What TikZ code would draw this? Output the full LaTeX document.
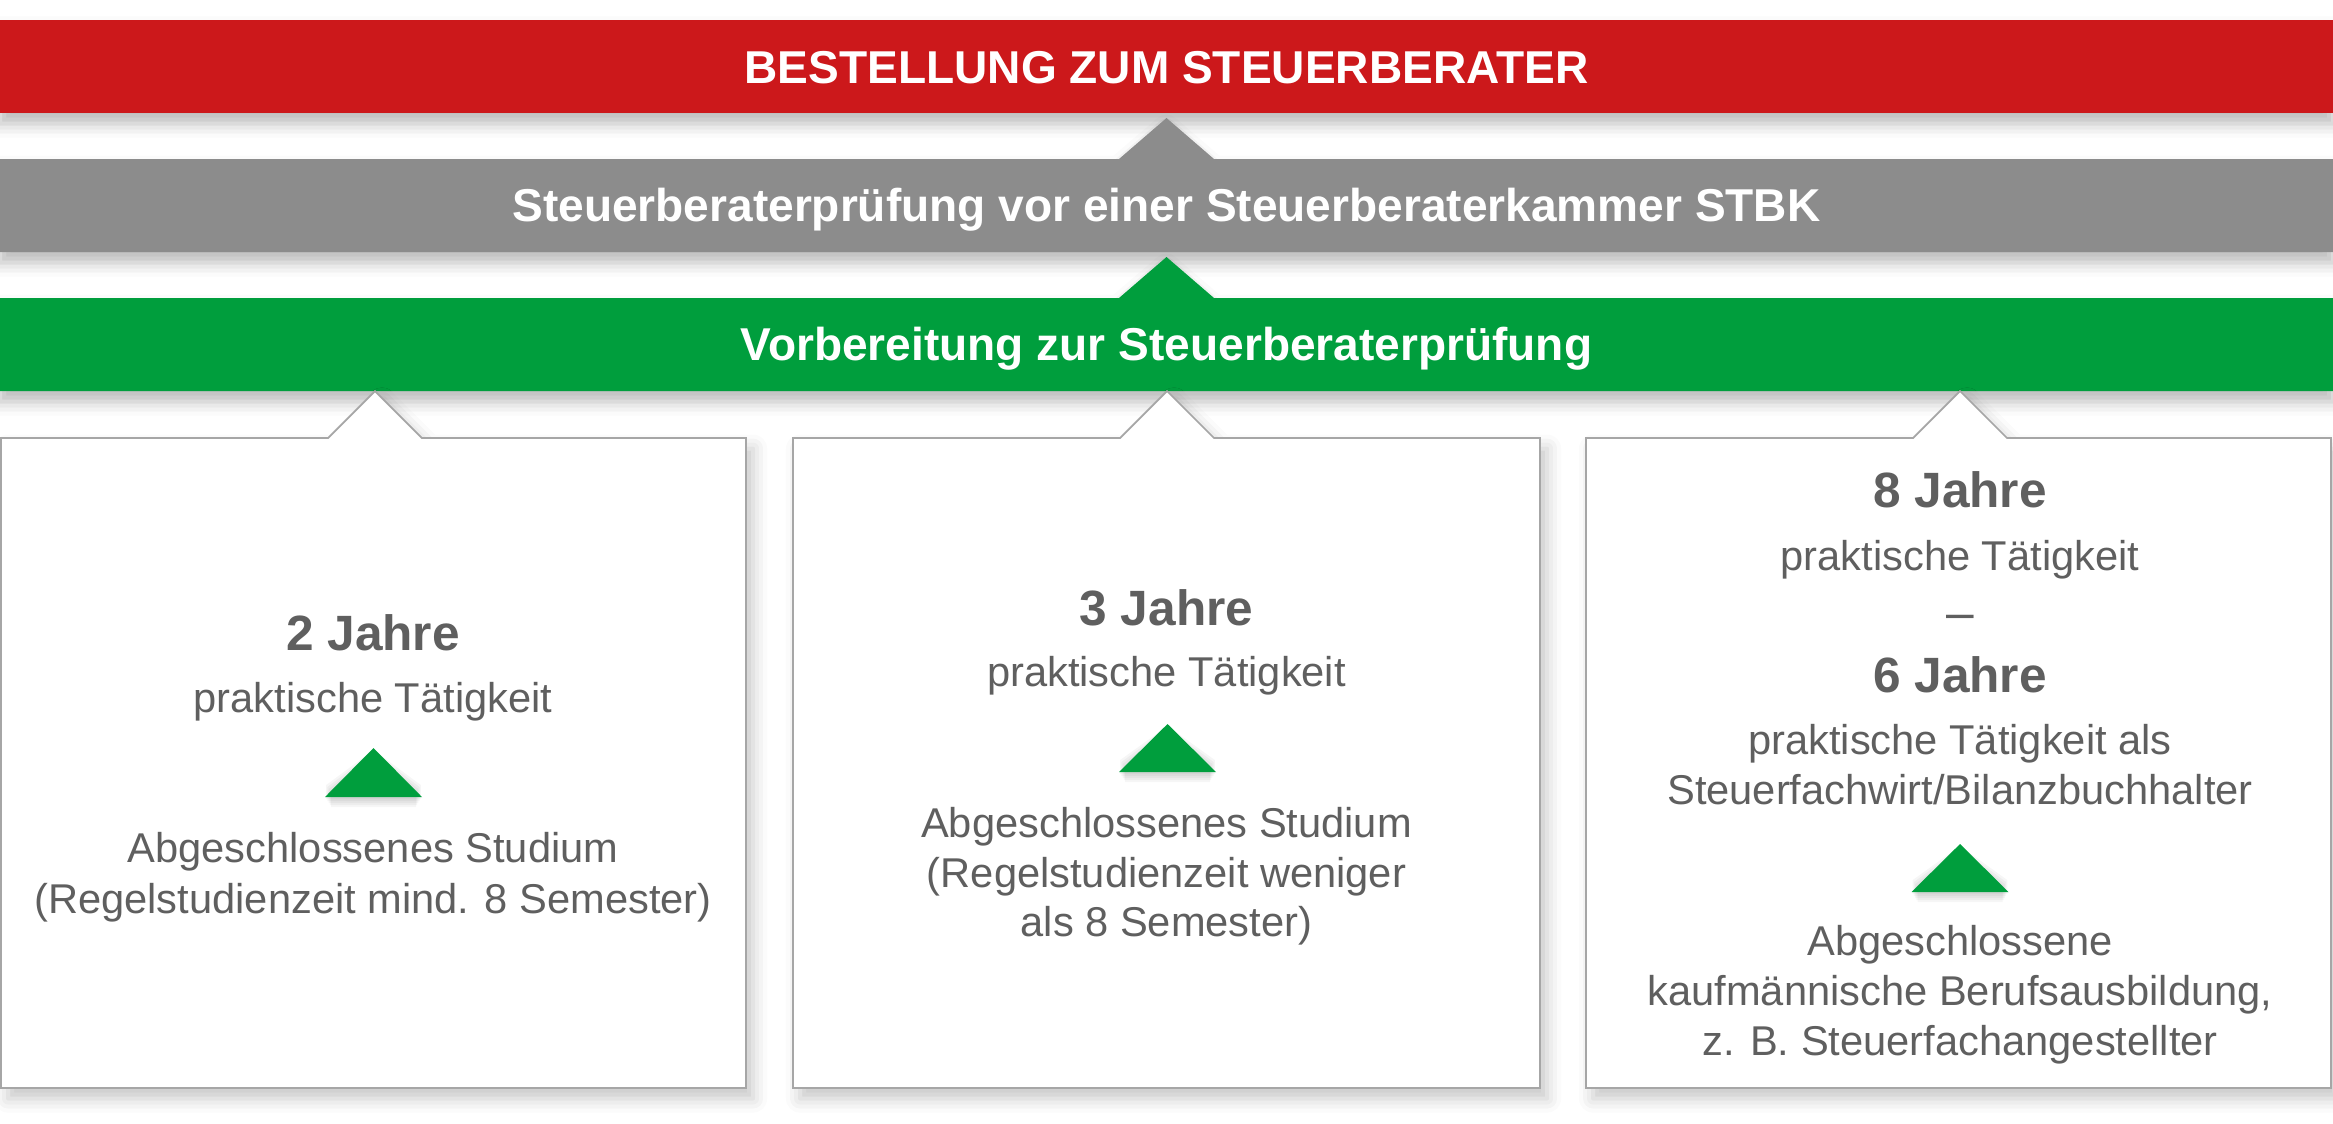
\documentclass[tikz,border=0pt]{standalone}
\usepackage{fontspec}
\setmainfont{Liberation Sans}
\usetikzlibrary{shadows.blur}
\definecolor{bandred}{HTML}{CC181B}
\definecolor{bandgray}{HTML}{8C8C8C}
\definecolor{bandgreen}{HTML}{009E3D}
\definecolor{txtgray}{HTML}{5F5F5F}
\definecolor{boxline}{HTML}{A6A6A6}
\tikzset{
  bandshadow/.style={blur shadow={shadow xshift=0pt, shadow yshift=-3pt, shadow blur radius=4pt, shadow opacity=28}},
  boxshadow/.style={blur shadow={shadow xshift=2pt, shadow yshift=-3pt, shadow blur radius=4pt, shadow opacity=22}},
  headtxt/.style={anchor=base, inner sep=0pt, text=white, font=\fontsize{13.1pt}{15pt}\selectfont\bfseries},
  yeartxt/.style={anchor=base, inner sep=0pt, text=txtgray, font=\fontsize{14.1pt}{16pt}\selectfont\bfseries},
  dashtxt/.style={anchor=base, inner sep=0pt, text=txtgray, font=\fontsize{14.1pt}{16pt}\selectfont},
  bodytxt/.style={anchor=base, inner sep=0pt, text=txtgray, font=\fontsize{11.84pt}{14.2pt}\selectfont},
  infobox/.style={fill=white, draw=boxline, line width=0.5pt, boxshadow},
  uptri/.style={fill=bandgreen},
  trishade/.style={fill=black, fill opacity=0.035},
}
\newcommand{\greentri}[3]{% apex x, apex y, base y
  \foreach \s in {2,4,6,8,10}{
    \path[trishade] ({#1-48.5+\s*0.6},{#3+\s-14}) -- ({#1},{#2+\s}) -- ({#1+48.5-\s*0.6},{#3+\s-14}) -- ({#1+48.5-\s*0.6},{#3+\s}) -- ({#1-48.5+\s*0.6},{#3+\s}) -- cycle;
  }
  \path[uptri] ({#1-48.5},#3) -- (#1,#2) -- ({#1+48.5},#3) -- cycle;
}
\begin{document}
\begin{tikzpicture}[x=0.01cm, y=-0.01cm]
\useasboundingbox (0,0) rectangle (2333,1123);
% bands
\path[fill=bandred, bandshadow] (0,20) rectangle (2333,113);
\path[fill=bandgray, bandshadow] (0,159) -- (1119,159) -- (1166.5,118) -- (1214,159) -- (2333,159) -- (2333,252) -- (0,252) -- cycle;
\path[fill=bandgreen, bandshadow] (0,298) -- (1119,298) -- (1166.5,257) -- (1214,298) -- (2333,298) -- (2333,391) -- (0,391) -- cycle;
\node[headtxt] (t1) at (1166.5,83) {BESTELLUNG ZUM STEUERBERATER};
\node[headtxt] (t2) at (1166.5,221) {Steuerberaterprüfung vor einer Steuerberaterkammer STBK};
\node[headtxt] (t3) at (1166.5,360) {Vorbereitung zur Steuerberaterprüfung};
% boxes
\path[infobox] (1,438) -- (328,438) -- (375,391) -- (422,438) -- (746,438) -- (746,1088) -- (1,1088) -- cycle;
\path[infobox] (793,438) -- (1120,438) -- (1167,391) -- (1214,438) -- (1540,438) -- (1540,1088) -- (793,1088) -- cycle;
\path[infobox] (1586,438) -- (1913,438) -- (1960,391) -- (2007,438) -- (2331,438) -- (2331,1088) -- (1586,1088) -- cycle;
% box 1
\node[yeartxt] (a1) at (373,650.5) {2 Jahre};
\node[bodytxt] (a2) at (373,712) {praktische Tätigkeit};
\greentri{373.5}{748}{797}
\node[bodytxt] (a3) at (373,862) {Abgeschlossenes Studium};
\node[bodytxt] (a4) at (373,913) {(Regelstudienzeit mind. 8 Semester)};
% box 2
\node[yeartxt] (b1) at (1166.5,625) {3 Jahre};
\node[bodytxt] (b2) at (1166.5,686) {praktische Tätigkeit};
\greentri{1167.5}{724}{772}
\node[bodytxt] (b3) at (1166.5,837) {Abgeschlossenes Studium};
\node[bodytxt] (b4) at (1166.5,887) {(Regelstudienzeit weniger};
\node[bodytxt] (b5) at (1166.5,936) {als 8 Semester)};
% box 3
\node[yeartxt] (c1) at (1960,507.6) {8 Jahre};
\node[bodytxt] (c2) at (1960,570.5) {praktische Tätigkeit};
\node[dashtxt] (c3) at (1960,629.5) {–};
\node[yeartxt] (c4) at (1960,692) {6 Jahre};
\node[bodytxt] (c5) at (1960,754) {praktische Tätigkeit als};
\node[bodytxt] (c6) at (1960,804) {Steuerfachwirt/Bilanzbuchhalter};
\greentri{1960}{844}{892}
\node[bodytxt] (c7) at (1960,955) {Abgeschlossene};
\node[bodytxt] (c8) at (1960,1005) {kaufmännische Berufsausbildung,};
\node[bodytxt] (c9) at (1960,1055) {z. B. Steuerfachangestellter};
\end{tikzpicture}
\end{document}
